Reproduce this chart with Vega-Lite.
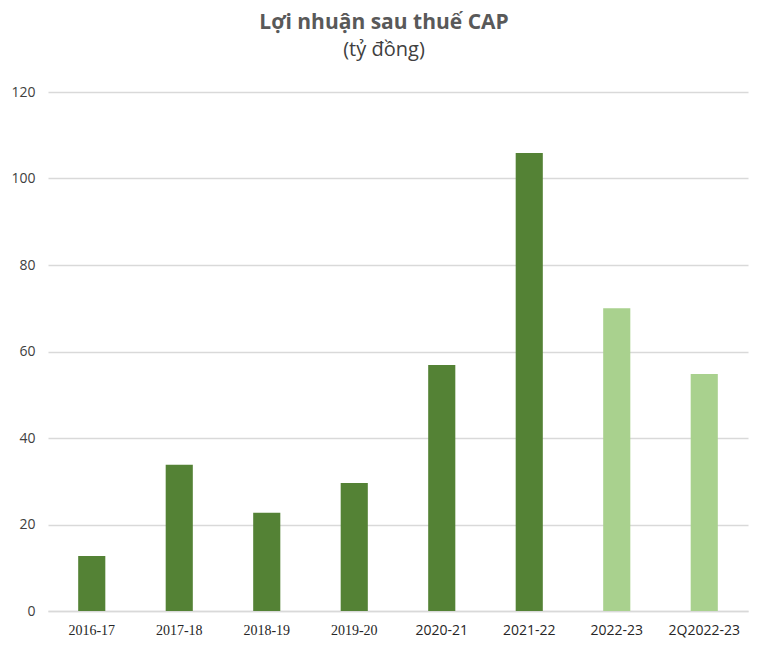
{
  "$schema": "https://vega.github.io/schema/vega-lite/v6.json",
  "width": 700,
  "height": 519,
  "autosize": {"type": "none"},
  "padding": {"left": 48, "top": 92, "right": 22, "bottom": 45},
  "background": "white",
  "config": {"view": {"stroke": null}},
  "title": {
    "text": "Lợi nhuận sau thuế CAP",
    "subtitle": "(tỷ đồng)",
    "anchor": "middle",
    "dx": -14,
    "offset": 25,
    "font": "Open Sans",
    "fontSize": 21,
    "fontWeight": "bold",
    "color": "#595959",
    "subtitleFont": "Open Sans",
    "subtitleFontSize": 20,
    "subtitleColor": "#404040",
    "subtitlePadding": 7
  },
  "data": {
    "values": [
      {"period": "2016-17", "profit": 12.7, "kind": "actual"},
      {"period": "2017-18", "profit": 33.8, "kind": "actual"},
      {"period": "2018-19", "profit": 22.7, "kind": "actual"},
      {"period": "2019-20", "profit": 29.6, "kind": "actual"},
      {"period": "2020-21", "profit": 56.9, "kind": "actual"},
      {"period": "2021-22", "profit": 105.9, "kind": "actual"},
      {"period": "2022-23", "profit": 70.0, "kind": "plan"},
      {"period": "2Q2022-23", "profit": 54.8, "kind": "plan"}
    ]
  },
  "mark": {"type": "bar"},
  "encoding": {
    "x": {
      "field": "period",
      "type": "nominal",
      "sort": null,
      "scale": {"paddingInner": 0.69, "paddingOuter": 0.345},
      "axis": {
        "title": null,
        "labelAngle": 0,
        "ticks": false,
        "domainColor": "#d9d9d9",
        "domainWidth": 1.5,
        "labelPadding": 12,
        "labelFontSize": 14,
        "labelColor": "#262626",
        "labelFont": {
          "condition": {"test": "indexof(['2016-17','2017-18','2018-19','2019-20'], datum.value) >= 0", "value": "Liberation Serif"},
          "value": "Open Sans"
        }
      }
    },
    "y": {
      "field": "profit",
      "type": "quantitative",
      "scale": {"domain": [0, 120]},
      "axis": {
        "title": null,
        "values": [0, 20, 40, 60, 80, 100, 120],
        "domain": false,
        "ticks": false,
        "gridColor": "#d9d9d9",
        "gridWidth": 1.5,
        "labelPadding": 13,
        "labelFont": "Open Sans",
        "labelFontSize": 14,
        "labelColor": "#404040"
      }
    },
    "color": {
      "field": "kind",
      "type": "nominal",
      "scale": {"domain": ["actual", "plan"], "range": ["#548235", "#a9d18e"]},
      "legend": null
    }
  }
}
